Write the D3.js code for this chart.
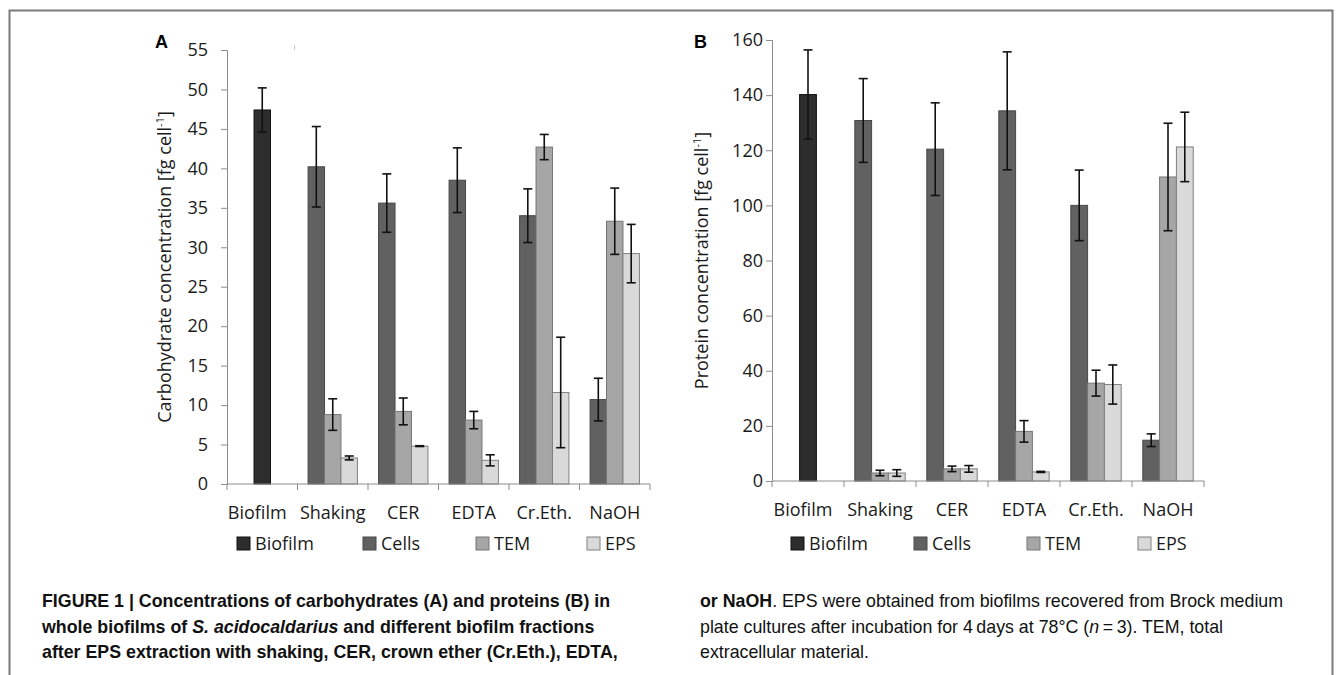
<!DOCTYPE html>
<html>
<head>
<meta charset="utf-8">
<script src="https://cdn.jsdelivr.net/npm/d3@7"></script>
<style>
  body { margin: 0; background: #fff; }
  svg { display: block; }
  .axis text { font-family: "Open Sans", sans-serif; fill: #1a1a1a; }
  .cap { font-family: "Liberation Sans", Arial, sans-serif; font-size: 17.8px; fill: #111; }
</style>
</head>
<body>
<svg id="fig" width="1342" height="675"></svg>
<script>
// data
var categories = ["Biofilm", "Shaking", "CER", "EDTA", "Cr.Eth.", "NaOH"];
var fractions = ["Cells", "TEM", "EPS"];
var legendNames = ["Biofilm", "Cells", "TEM", "EPS"];
var colors = ["#2d2d2d", "#616161", "#a6a6a6", "#d9d9d9"];
var borders = ["#111111", "#484848", "#777777", "#808080"];

// carbohydrates, fg/cell (panel A)
var carbBiofilm = 47.4, carbBiofilmErr = 2.8;
var carbCells = [null, 40.2, 35.6, 38.5, 34.0, 10.7];
var carbCellsErr = [null, 5.1, 3.7, 4.1, 3.4, 2.7];
var carbTEM = [null, 8.8, 9.2, 8.1, 42.7, 33.3];
var carbTEMErr = [null, 2.0, 1.7, 1.1, 1.6, 4.2];
var carbEPS = [null, 3.3, 4.8, 3.0, 11.6, 29.2];
var carbEPSErr = [null, 0.25, 0.05, 0.7, 7.0, 3.7];

// proteins, fg/cell (panel B)
var protBiofilm = 140.2, protBiofilmErr = 16.2;
var protCells = [null, 130.8, 120.4, 134.3, 100.0, 14.8];
var protCellsErr = [null, 15.2, 16.8, 21.4, 12.8, 2.3];
var protTEM = [null, 2.9, 4.4, 18.0, 35.5, 110.3];
var protTEMErr = [null, 1.0, 1.0, 3.9, 4.7, 19.5];
var protEPS = [null, 2.9, 4.4, 3.3, 35.0, 121.2];
var protEPSErr = [null, 1.2, 1.2, 0.2, 7.1, 12.6];

var svg = d3.select("#fig");

// frame round the figure
svg.append("path")
  .attr("d", "M9.5,700V10.5H1332.5V700")
  .attr("fill", "none")
  .attr("stroke", "#7a7a7a")
  .attr("stroke-width", 2);

function drawPanel(opt) {
  var g = svg.append("g");
  var x = d3.scaleBand().domain(categories).range([opt.x0, opt.x1]);
  var y = d3.scaleLinear().domain([0, opt.max]).range([opt.y0, opt.y1]);
  var gap = x.bandwidth() * 0.15;
  var slot = d3.scaleBand().domain(fractions).range([gap, x.bandwidth() - gap]);

  // bar rows; the whole-biofilm bar sits in the middle slot of its category
  var rows = [];
  rows.push({cat: categories[0], s: "TEM", v: opt.biofilm, e: opt.biofilmErr, k: 0});
  fractions.forEach(function(f, k) {
    categories.forEach(function(cat, i) {
      if (opt.vals[k][i] == null) return;
      rows.push({cat: cat, s: f, v: opt.vals[k][i], e: opt.errs[k][i], k: k + 1});
    });
  });
  var cx = function(d) { return x(d.cat) + slot(d.s) + slot.bandwidth() / 2; };

  g.selectAll("rect.bar")
    .data(rows)
    .enter().append("rect")
    .attr("class", "bar")
    .attr("x", function(d) { return x(d.cat) + slot(d.s); })
    .attr("width", slot.bandwidth())
    .attr("y", function(d) { return y(d.v); })
    .attr("height", function(d) { return y(0) - y(d.v); })
    .attr("fill", function(d) { return colors[d.k]; })
    .attr("stroke", function(d) { return borders[d.k]; })
    .attr("stroke-width", 1);

  // error bars
  var cap = 4.5;
  var eb = g.selectAll("g.err").data(rows).enter().append("g")
    .attr("stroke", "#111").attr("stroke-width", 1.6);
  eb.append("line")
    .attr("x1", cx).attr("x2", cx)
    .attr("y1", function(d) { return y(d.v + d.e); })
    .attr("y2", function(d) { return y(d.v - d.e); });
  [1, -1].forEach(function(sg) {
    eb.append("line")
      .attr("x1", function(d) { return cx(d) - cap; })
      .attr("x2", function(d) { return cx(d) + cap; })
      .attr("y1", function(d) { return y(d.v + sg * d.e); })
      .attr("y2", function(d) { return y(d.v + sg * d.e); });
  });

  // y axis
  var ya = g.append("g").attr("class", "axis")
    .attr("transform", "translate(" + opt.x0 + ",0)")
    .call(d3.axisLeft(y).tickValues(d3.range(0, opt.max + 1, opt.step)).tickSize(6).tickPadding(opt.pad));
  ya.selectAll("text").style("font-size", "18px");
  ya.selectAll("line, path").attr("stroke", "#8c8c8c");

  // x axis, ticks between categories
  var xa = g.append("g").attr("class", "axis")
    .attr("transform", "translate(0," + opt.y0 + ")");
  xa.append("line").attr("x1", opt.x0).attr("x2", opt.x1).attr("stroke", "#8c8c8c");
  xa.selectAll("line.tk")
    .data(categories.concat(["end"]))
    .enter().append("line")
    .attr("class", "tk")
    .attr("x1", function(d, i) { return i < categories.length ? x(d) : opt.x1; })
    .attr("x2", function(d, i) { return i < categories.length ? x(d) : opt.x1; })
    .attr("y1", 0).attr("y2", 6)
    .attr("stroke", "#8c8c8c");
  xa.selectAll("text")
    .data(categories)
    .enter().append("text")
    .attr("x", function(d, i) { return x(d) + x.bandwidth() / 2 - (i == 0 ? 5 : 0); })
    .attr("y", 35)
    .attr("text-anchor", "middle")
    .style("font-size", "18px")
    .text(function(d) { return d; });

  // axis title
  var t = g.append("text")
    .attr("transform", "translate(" + opt.titleX + "," + (opt.y0 + opt.y1) / 2 + ") rotate(-90)")
    .attr("text-anchor", "middle")
    .style("font-family", "'Open Sans', sans-serif")
    .style("font-size", "18px")
    .attr("fill", "#1a1a1a");
  t.append("tspan").text(opt.title + " [fg cell");
  t.append("tspan").attr("dy", -7).style("font-size", "11px").text("-1");
  t.append("tspan").attr("dy", 7).text("]");

  // panel letter
  g.append("text")
    .attr("x", opt.letterX).attr("y", 48)
    .style("font-family", "'Liberation Sans', Arial, sans-serif")
    .style("font-weight", "bold").style("font-size", "18px")
    .text(opt.letter);

  // legend
  var lg = g.selectAll("g.leg").data(legendNames).enter().append("g")
    .attr("transform", function(d, i) { return "translate(" + (opt.x0 + opt.legOff[i]) + ",550)"; });
  lg.append("rect")
    .attr("x", 0).attr("y", -13).attr("width", 13).attr("height", 13)
    .attr("fill", function(d, i) { return colors[i]; })
    .attr("stroke", function(d, i) { return borders[i]; });
  lg.append("text")
    .attr("x", 18).attr("y", 0)
    .style("font-family", "'Open Sans', sans-serif")
    .style("font-size", "18px").attr("fill", "#1a1a1a")
    .text(function(d) { return d; });
}

drawPanel({
  x0: 227, x1: 650, y0: 484, y1: 50, max: 55, step: 5, pad: 13,
  biofilm: carbBiofilm, biofilmErr: carbBiofilmErr,
  vals: [carbCells, carbTEM, carbEPS], errs: [carbCellsErr, carbTEMErr, carbEPSErr],
  title: "Carbohydrate concentration", titleX: 171, letter: "A", letterX: 155,
  legOff: [10, 136, 249, 360]
});

drawPanel({
  x0: 772, x1: 1204, y0: 481, y1: 40, max: 160, step: 20, pad: 3,
  biofilm: protBiofilm, biofilmErr: protBiofilmErr,
  vals: [protCells, protTEM, protEPS], errs: [protCellsErr, protTEMErr, protEPSErr],
  title: "Protein concentration", titleX: 708, letter: "B", letterX: 694,
  legOff: [19, 142, 255, 366]
});

// stray grey mark above panel A in the original
svg.append("line").attr("x1", 294.5).attr("x2", 294.5).attr("y1", 45).attr("y2", 50)
  .attr("stroke", "#c8c8c8").attr("stroke-width", 1);

// caption
var capY = [607, 633, 658];
var c1 = svg.append("text").attr("class", "cap").style("font-weight", "bold");
c1.append("tspan").attr("x", 42).attr("y", capY[0])
  .text("FIGURE 1 | Concentrations of carbohydrates (A) and proteins (B) in");
c1.append("tspan").attr("x", 42).attr("y", capY[1]).text("whole biofilms of ");
c1.append("tspan").style("font-style", "italic").text("S. acidocaldarius");
c1.append("tspan").text(" and different biofilm fractions");
c1.append("tspan").attr("x", 42).attr("y", capY[2])
  .text("after EPS extraction with shaking, CER, crown ether (Cr.Eth.), EDTA,");

var c2 = svg.append("text").attr("class", "cap");
c2.append("tspan").attr("x", 700).attr("y", capY[0]).style("font-weight", "bold").text("or NaOH");
c2.append("tspan").text(". EPS were obtained from biofilms recovered from Brock medium");
c2.append("tspan").attr("x", 700).attr("y", capY[1]).text("plate cultures after incubation for 4\u2009days at 78\u00b0C (");
c2.append("tspan").style("font-style", "italic").text("n");
c2.append("tspan").text("\u2009=\u20093). TEM, total");
c2.append("tspan").attr("x", 700).attr("y", capY[2]).text("extracellular material.");
</script>
</body>
</html>
